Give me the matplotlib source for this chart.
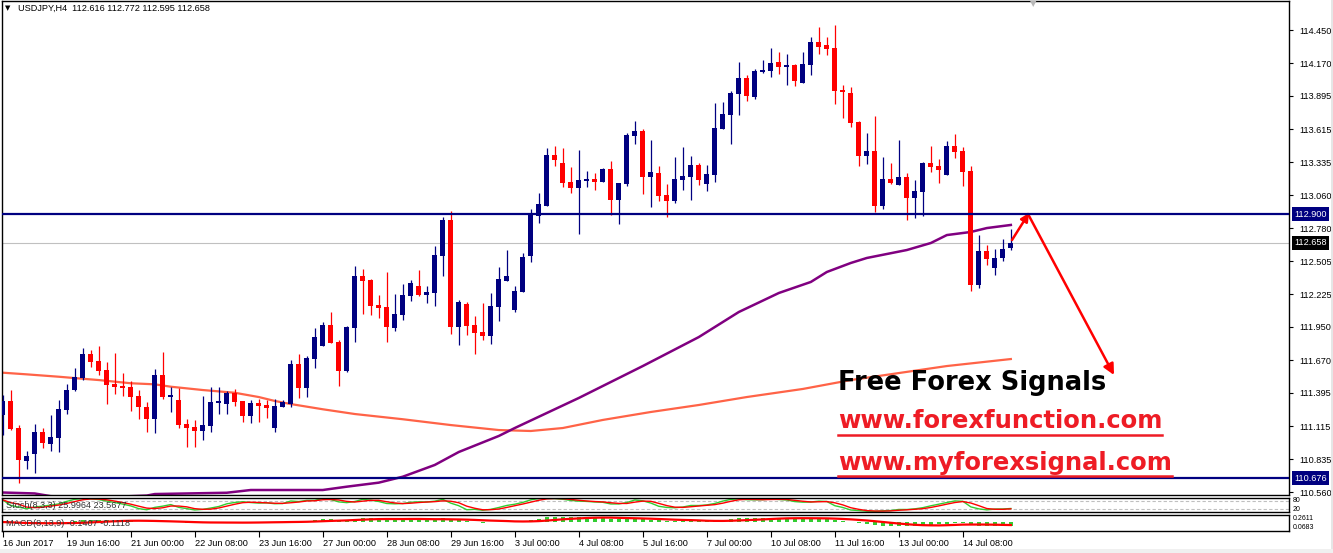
import numpy as np
import pandas as pd
import matplotlib
matplotlib.use("Agg")
import matplotlib.pyplot as plt
from matplotlib.lines import Line2D
from matplotlib.patches import Rectangle
from matplotlib.transforms import blended_transform_factory

plt.rcParams['font.family'] = ['Liberation Sans', 'DejaVu Sans']

# --- chart data (USDJPY H4) ---
symbol_text = "USDJPY,H4  112.616 112.772 112.595 112.658"
stoch_text = "Stoch(8,3,3) 25.9964 23.5677"
macd_text = "MACD(8,13,9) -0.1407 -0.1118"

opens = [111.209, 111.327, 111.099, 110.821, 110.880, 111.066, 110.965, 111.015, 111.251, 111.419,
         111.520, 111.722, 111.663, 111.588, 111.470, 111.453, 111.444, 111.369, 111.276, 111.175,
         111.545, 111.360, 111.335, 111.133, 111.108, 111.074, 111.116, 111.310, 111.301, 111.394,
         111.327, 111.200, 111.310, 111.293, 111.099, 111.276, 111.301, 111.638, 111.436, 111.680,
         111.790, 111.966, 111.823, 111.579, 111.941, 112.379, 112.345, 112.135, 112.118, 111.941,
         112.051, 112.211, 112.295, 112.219, 112.236, 112.547, 112.851, 111.950, 112.143, 111.966,
         111.908, 111.874, 112.118, 112.337, 112.093, 112.244, 112.547, 112.884, 112.968, 113.398,
         113.331, 113.171, 113.120, 113.179, 113.196, 113.171, 113.280, 113.019, 113.154, 113.558,
         113.600, 113.213, 113.246, 113.061, 113.011, 113.187, 113.213, 113.314, 113.154, 113.229,
         113.617, 113.735, 113.912, 114.046, 113.886, 114.097, 114.105, 114.181, 114.139, 114.156,
         114.004, 114.156, 114.349, 114.324, 114.299, 113.945, 113.920, 113.676, 113.389, 113.432,
         112.968, 113.196, 113.145, 113.213, 113.036, 113.086, 113.331, 113.305, 113.229, 113.474,
         113.432, 113.263, 112.303, 112.590, 112.446, 112.531, 112.616]
highs = [111.377, 111.419, 111.124, 110.906, 111.133, 111.099, 111.209, 111.335, 111.470, 111.604,
         111.773, 111.756, 111.790, 111.655, 111.731, 111.562, 111.495, 111.419, 111.318, 111.596,
         111.739, 111.444, 111.436, 111.175, 111.167, 111.369, 111.444, 111.444, 111.411, 111.428,
         111.327, 111.335, 111.343, 111.335, 111.343, 111.335, 111.672, 111.722, 111.705, 111.941,
         111.992, 112.076, 111.840, 111.958, 112.463, 112.438, 112.354, 112.219, 112.413, 112.228,
         112.312, 112.345, 112.430, 112.295, 112.632, 112.876, 112.926, 112.177, 112.160, 112.042,
         112.152, 112.236, 112.455, 112.598, 112.295, 112.573, 112.943, 113.078, 113.457, 113.474,
         113.457, 113.297, 113.440, 113.263, 113.246, 113.289, 113.347, 113.162, 113.583, 113.684,
         113.617, 113.524, 113.305, 113.154, 113.381, 113.465, 113.389, 113.331, 113.314, 113.836,
         113.844, 113.937, 114.181, 114.071, 114.122, 114.198, 114.299, 114.265, 114.248, 114.164,
         114.265, 114.391, 114.476, 114.391, 114.492, 113.987, 113.970, 113.684, 113.583, 113.726,
         113.381, 113.331, 113.524, 113.246, 113.187, 113.339, 113.474, 113.364, 113.516, 113.575,
         113.465, 113.305, 112.724, 112.640, 112.606, 112.691, 112.772]
lows = [111.040, 111.082, 110.636, 110.754, 110.720, 110.931, 110.906, 110.897, 111.217, 111.411,
        111.503, 111.613, 111.545, 111.301, 111.386, 111.369, 111.242, 111.175, 111.066, 111.057,
        111.343, 111.234, 111.099, 110.939, 110.939, 110.998, 111.066, 111.217, 111.217, 111.284,
        111.150, 111.141, 111.150, 111.183, 111.066, 111.276, 111.276, 111.352, 111.360, 111.604,
        111.790, 111.815, 111.453, 111.571, 111.823, 112.059, 112.051, 112.025, 111.823, 111.916,
        112.009, 112.169, 112.211, 112.152, 112.126, 112.379, 111.891, 111.798, 111.882, 111.722,
        111.840, 111.807, 112.000, 112.337, 112.076, 112.244, 112.497, 112.825, 112.968, 113.305,
        113.128, 113.078, 112.733, 113.128, 113.103, 113.171, 112.893, 112.817, 113.137, 113.491,
        113.070, 112.960, 113.011, 112.876, 112.994, 113.103, 113.019, 113.145, 113.095, 113.171,
        113.617, 113.491, 113.735, 113.853, 113.869, 114.088, 114.055, 114.080, 113.987, 113.979,
        114.004, 114.071, 114.248, 114.240, 113.827, 113.709, 113.634, 113.305, 113.322, 112.918,
        112.943, 113.154, 113.145, 112.851, 112.867, 112.884, 113.255, 113.162, 113.229, 113.373,
        113.137, 112.253, 112.278, 112.472, 112.387, 112.505, 112.595]
closes = [111.327, 111.091, 110.830, 110.863, 111.066, 110.973, 111.023, 111.259, 111.419, 111.529,
          111.722, 111.655, 111.579, 111.461, 111.444, 111.436, 111.360, 111.276, 111.175, 111.545,
          111.360, 111.377, 111.124, 111.099, 111.074, 111.124, 111.318, 111.327, 111.394, 111.318,
          111.200, 111.310, 111.284, 111.268, 111.284, 111.318, 111.638, 111.436, 111.689, 111.865,
          111.966, 111.815, 111.579, 111.950, 112.379, 112.337, 112.126, 112.110, 111.950, 112.059,
          112.219, 112.320, 112.219, 112.244, 112.556, 112.851, 111.950, 112.160, 111.958, 111.899,
          111.874, 112.126, 112.354, 112.379, 112.253, 112.539, 112.910, 112.985, 113.398, 113.356,
          113.162, 113.120, 113.187, 113.196, 113.171, 113.280, 113.019, 113.162, 113.566, 113.600,
          113.213, 113.255, 113.053, 113.011, 113.196, 113.221, 113.314, 113.187, 113.238, 113.625,
          113.743, 113.920, 114.046, 113.895, 114.105, 114.114, 114.173, 114.139, 114.156, 114.021,
          114.164, 114.349, 114.307, 114.290, 113.937, 113.928, 113.667, 113.389, 113.432, 112.968,
          113.196, 113.162, 113.213, 113.036, 113.095, 113.331, 113.297, 113.272, 113.474, 113.423,
          113.255, 112.303, 112.590, 112.522, 112.531, 112.606, 112.658]

# long moving averages, read at a few bars
purple_bars = [0, 4, 6, 12, 18, 19, 28, 31, 40, 43, 47, 50, 54, 57, 62, 64, 72, 80, 87, 92,
               97, 101, 103, 106, 108, 113, 116, 118, 121, 123, 126]
purple_vals = [110.556, 110.548, 110.525, 110.515, 110.530, 110.543, 110.554, 110.577, 110.577, 110.605,
               110.639, 110.689, 110.788, 110.897, 111.032, 111.099, 111.352, 111.621, 111.865, 112.076,
               112.236, 112.329, 112.413, 112.489, 112.531, 112.598, 112.657, 112.724, 112.750, 112.783,
               112.809]
orange_bars = [0, 3, 7, 10, 12, 16, 19, 21, 25, 29, 32, 34, 36, 40, 44, 50, 56, 62, 66, 70,
               75, 81, 87, 93, 100, 106, 112, 118, 126]
orange_vals = [111.565, 111.551, 111.531, 111.514, 111.503, 111.476, 111.467, 111.447, 111.419, 111.396,
               111.360, 111.327, 111.301, 111.257, 111.217, 111.173, 111.124, 111.082, 111.074, 111.099,
               111.167, 111.234, 111.293, 111.360, 111.428, 111.503, 111.562, 111.621, 111.680]

support_lines = [112.900, 110.676]
price_ticks = [114.450, 114.170, 113.895, 113.615, 113.335, 113.060, 112.780, 112.505,
               112.225, 111.950, 111.670, 111.395, 111.115, 110.835, 110.560]
tick_bars = [0, 8, 16, 24, 32, 40, 48, 56, 64, 72, 80, 88, 96, 104, 112, 120]
tick_labels = ["16 Jun 2017", "19 Jun 16:00", "21 Jun 00:00", "22 Jun 08:00", "23 Jun 16:00",
               "27 Jun 00:00", "28 Jun 08:00", "29 Jun 16:00", "3 Jul 00:00", "4 Jul 08:00",
               "5 Jul 16:00", "7 Jul 00:00", "10 Jul 08:00", "11 Jul 16:00", "13 Jul 00:00",
               "14 Jul 08:00"]
stoch_scale = ["80", "20"]
macd_scale = ["0.2611", "0.0683"]

NAVY = "#000080"
RED = "#FF0000"
LINK_RED = "#EE1C25"
GREEN = "#32CD32"
FS = 6.6

W, H = 1333, 553
fig = plt.figure(figsize=(W / 100, H / 100), dpi=100)
fig.patch.set_facecolor("white")

# light window edges on the right and bottom
fig.add_artist(Rectangle((1331 / W, 0), 2 / W, 1, transform=fig.transFigure,
                         color="#E6E6E6", lw=0))
fig.add_artist(Rectangle((0, 0), 1, 4 / H, transform=fig.transFigure,
                         color="#F0F0F0", lw=0))


def add_panel(top, bottom):
    return fig.add_axes([1.7 / W, 1 - bottom / H, (1289.3 - 1.7) / W, (bottom - top) / H])


ax = add_panel(1, 495)
ax_st = add_panel(497.7, 512.3)
ax_md = add_panel(515, 531)

x = np.arange(len(closes))
o, hi, lo, c = (np.array(v) for v in (opens, highs, lows, closes))
cols = np.where(c >= o, NAVY, RED)

# candles
ax.vlines(x, lo, hi, colors=cols, lw=0.9, zorder=3)
ax.bar(x, np.maximum(np.abs(c - o), 0.009), bottom=np.minimum(o, c), width=0.62,
       color=cols, linewidth=0, zorder=4)

# moving averages
ax.plot(orange_bars, orange_vals, color="#FF6347", lw=1.6, zorder=2)
ax.plot(purple_bars, purple_vals, color="#800080", lw=1.8, zorder=2)

# levels
for lvl in support_lines:
    ax.axhline(lvl, color=NAVY, lw=1.6, zorder=5)
ax.axhline(closes[-1], color="#C0C0C0", lw=0.8, zorder=1)

ax.set_xlim(-0.125, 160.8)
ax.set_ylim(110.535, 114.695)
ax.set_xticks([])
ax.yaxis.tick_right()
ax.set_yticks(price_ticks)
ax.set_yticklabels([f"{v:.3f}" for v in price_ticks])
ax.tick_params(axis="y", length=3, width=0.8, pad=4, labelsize=FS)

trans = blended_transform_factory(ax.transAxes, ax.transData)
for val, bg in ((112.900, NAVY), (closes[-1], "black"), (110.676, NAVY)):
    ax.text(1.004, val, f"{val:.3f}", transform=trans, color="white", fontsize=FS,
            va="center", ha="left", zorder=10,
            bbox=dict(boxstyle="square,pad=0.25", fc=bg, ec="none"))

# stochastic (8,3,3)
hh = pd.Series(highs).rolling(8, min_periods=1).max()
ll = pd.Series(lows).rolling(8, min_periods=1).min()
cs = pd.Series(closes)
stoch_k = 100 * (cs - ll).rolling(3, min_periods=1).sum() / (hh - ll).rolling(3, min_periods=1).sum()
stoch_d = stoch_k.rolling(3, min_periods=1).mean()
for lvl in (20, 80):
    ax_st.axhline(lvl, color="#C0C0C0", lw=0.8, ls=(0, (3, 2)))
ax_st.plot(x, stoch_k, color=GREEN, lw=1.0)
ax_st.plot(x, stoch_d, color=RED, lw=1.0)
ax_st.set_ylim(0, 100)
ax_st.set_xlim(ax.get_xlim())
ax_st.set_xticks([])
ax_st.set_yticks([])
ax_st.text(0.003, 0.45, stoch_text, transform=ax_st.transAxes, fontsize=FS,
           va="center", color="#333333")

# MACD (8,13,9)
macd = cs.ewm(span=8, adjust=False).mean() - cs.ewm(span=13, adjust=False).mean()
signal = macd.rolling(9, min_periods=1).mean()
ax_md.bar(x, macd, width=0.5, color=GREEN, linewidth=0)
ax_md.plot(x, signal, color=RED, lw=1.6)
ax_md.set_ylim(-0.3322, 0.2611)
ax_md.set_xlim(ax.get_xlim())
ax_md.set_yticks([])
ax_md.set_xticks(tick_bars)
ax_md.set_xticklabels(tick_labels, ha="left", fontsize=FS)
ax_md.tick_params(axis="x", length=4, width=0.8, pad=2)
ax_md.text(0.003, 0.45, macd_text, transform=ax_md.transAxes, fontsize=FS,
           va="center", color="#333333")

for a in (ax, ax_st, ax_md):
    for s in a.spines.values():
        s.set_linewidth(1.0)
        s.set_color("black")

# right-side indicator scale labels, squeezed into the thin panels
for txt, ypx in zip(stoch_scale, (500.8, 509.6)):
    fig.text(1293 / W, 1 - ypx / H, txt, fontsize=5, va="center")
for txt, ypx in zip(macd_scale, (518.8, 527.6)):
    fig.text(1293 / W, 1 - ypx / H, txt, fontsize=5, va="center")

# header
fig.text(5 / W, 1 - 8 / H, "\u25bc", fontsize=5, va="center", family=["DejaVu Sans"])
fig.text(18 / W, 1 - 8 / H, symbol_text, fontsize=FS, va="center")
fig.text(1033 / W, 1 - 4 / H, "\u25bc", fontsize=6, va="center", ha="center",
         color="#B8B8B8", family=["DejaVu Sans"])

# arrows
ax.annotate("", xy=(1114, H - 375), xytext=(1028, H - 214),
            xycoords="figure pixels", textcoords="figure pixels",
            arrowprops=dict(arrowstyle="-|>", color=RED, lw=1.8, mutation_scale=16,
                            shrinkA=0, shrinkB=0))
ax.annotate("", xy=(1029, H - 213), xytext=(1012, H - 240),
            xycoords="figure pixels", textcoords="figure pixels",
            arrowprops=dict(arrowstyle="-|>", color=RED, lw=1.8, mutation_scale=12,
                            shrinkA=0, shrinkB=0))

# promo text
fig.text(838 / W, 1 - 390 / H, "Free Forex Signals", fontsize=18.5, fontweight="bold",
         color="black", va="baseline", family=["DejaVu Sans"])
links = []
for txt, base in (("www.forexfunction.com", 428.5), ("www.myforexsignal.com", 470)):
    links.append(fig.text(838 / W, 1 - base / H, txt, fontsize=17.5, fontweight="bold",
                          color=LINK_RED, va="baseline", family=["DejaVu Sans"]))

fig.canvas.draw()
for t, uy in zip(links, (434.5, 476)):
    bb = t.get_window_extent()
    fig.add_artist(Line2D([bb.x0 / W, bb.x1 / W], [1 - uy / H, 1 - uy / H],
                          color=LINK_RED, lw=1.8, transform=fig.transFigure))

fig.savefig("out.png", dpi=100, facecolor="white")
